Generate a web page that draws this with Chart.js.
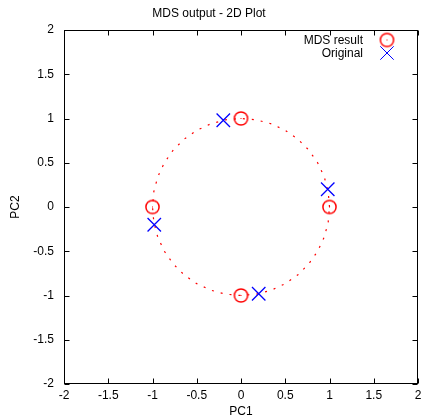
<!DOCTYPE html>
<html>
<head>
<meta charset="utf-8">
<script src="https://cdn.jsdelivr.net/npm/chart.js@4/dist/chart.umd.min.js"></script>
<style>
  body { margin: 0; background: #fff; }
  canvas { display: block; }
</style>
</head>
<body>
<canvas id="mds" width="421" height="419"></canvas>
<script>
// MDS result points
var mdsX = [0, -1, 1, 0];
var mdsY = [1, 0, 0, -1];
// original points
var origX = [-0.2, -0.98, 0.98, 0.2];
var origY = [0.98, -0.2, 0.2, -0.98];
// unit circle, every 10 degrees
var circleX = [1, 0.985, 0.94, 0.866, 0.766, 0.643, 0.5, 0.342, 0.174, 0, -0.174, -0.342, -0.5, -0.643, -0.766, -0.866, -0.94, -0.985, -1,
  -0.985, -0.94, -0.866, -0.766, -0.643, -0.5, -0.342, -0.174, 0, 0.174, 0.342, 0.5, 0.643, 0.766, 0.866, 0.94, 0.985, 1];
var circleY = [0, 0.174, 0.342, 0.5, 0.643, 0.766, 0.866, 0.94, 0.985, 1, 0.985, 0.94, 0.866, 0.766, 0.643, 0.5, 0.342, 0.174, 0,
  -0.174, -0.342, -0.5, -0.643, -0.766, -0.866, -0.94, -0.985, -1, -0.985, -0.94, -0.866, -0.766, -0.643, -0.5, -0.342, -0.174, 0];
var tickValues = [-2, -1.5, -1, -0.5, 0, 0.5, 1, 1.5, 2];
var seriesNames = ["MDS result", "Original"];

var FONT = "'Liberation Sans', Arial, sans-serif";

function pts(xs, ys) {
  return xs.map(function (v, i) { return {x: v, y: ys[i]}; });
}

// red circle marker with a little dot in the middle
var ring = document.createElement("canvas");
ring.width = 17; ring.height = 17;
var rc = ring.getContext("2d");
rc.strokeStyle = "#ff0000";
rc.fillStyle = "#ff0000";
rc.lineWidth = 1.5;
rc.beginPath();
rc.arc(8.5, 8.5, 6.6, 0, Math.PI * 2);
rc.stroke();
rc.fillRect(8, 8, 1, 1);

var crossOpts = {pointStyle: "crossRot", radius: 9.5, borderWidth: 1.3};

// gnuplot style frame, inward ticks on all sides, key in the corner
var framePlugin = {
  id: "frame",
  afterDatasetsDraw: function (chart) {
    var ctx = chart.ctx, a = chart.chartArea;
    var x = chart.scales.x, y = chart.scales.y;
    var L = Math.round(a.left) + 0.5, R = Math.round(a.right) - 0.5;
    var T = Math.round(a.top) + 0.5, B = Math.round(a.bottom) - 0.5;
    ctx.save();
    ctx.strokeStyle = "#000";
    ctx.lineWidth = 1;
    ctx.strokeRect(L, T, R - L, B - T);
    ctx.beginPath();
    tickValues.forEach(function (v) {
      var px = Math.round(x.getPixelForValue(v)) + 0.5;
      ctx.moveTo(px, B); ctx.lineTo(px, B - 5);
      ctx.moveTo(px, T); ctx.lineTo(px, T + 5);
      var py = Math.round(y.getPixelForValue(v)) + 0.5;
      ctx.moveTo(L, py); ctx.lineTo(L + 5, py);
      ctx.moveTo(R, py); ctx.lineTo(R - 5, py);
    });
    ctx.stroke();

    // key
    ctx.font = "12px " + FONT;
    ctx.fillStyle = "#000";
    ctx.textAlign = "right";
    ctx.textBaseline = "middle";
    var kx = a.right - 31;
    ctx.fillText(seriesNames[0], a.right - 55, a.top + 11);
    ctx.fillText(seriesNames[1], a.right - 55, a.top + 24);
    Chart.helpers.drawPoint(ctx, {pointStyle: ring, radius: 6.5, borderWidth: 1}, kx, a.top + 10);
    ctx.strokeStyle = "#0000ff";
    Chart.helpers.drawPoint(ctx, crossOpts, kx, a.top + 23);
    ctx.restore();
  }
};

new Chart("mds", {
  type: "scatter",
  data: {
    datasets: [{
      label: seriesNames[1],
      data: pts(origX, origY),
      pointStyle: "crossRot",
      pointRadius: 9.5,
      pointBorderWidth: 1.3,
      borderColor: "#0000ff",
      backgroundColor: "#0000ff",
      order: 0
    }, {
      label: seriesNames[0],
      data: pts(mdsX, mdsY),
      pointStyle: ring,
      pointRadius: 6.5,
      order: 1
    }, {
      label: "circle",
      data: pts(circleX, circleY),
      showLine: true,
      pointRadius: 0,
      borderColor: "#ff0000",
      borderWidth: 1.2,
      borderDash: [2, 7],
      tension: 0,
      order: 2
    }]
  },
  options: {
    responsive: false,
    animation: false,
    events: [],
    layout: {autoPadding: false, padding: {left: 0, right: 3, top: 0, bottom: 0}},
    plugins: {
      legend: {display: false},
      tooltip: {enabled: false},
      title: {
        display: true,
        text: "MDS output - 2D Plot",
        color: "#000",
        font: {family: FONT, size: 12, weight: "normal"},
        padding: {top: 6, bottom: 9.6}
      }
    },
    scales: {
      x: {
        type: "linear",
        min: -2, max: 2,
        afterBuildTicks: function (s) { s.ticks = tickValues.map(function (v) { return {value: v}; }); },
        afterFit: function (s) { s.height = 35; s.paddingLeft = 0; s.paddingRight = 0; },
        grid: {display: false, drawTicks: false},
        border: {display: false},
        ticks: {
          padding: 4,
          color: "#000",
          font: {family: FONT, size: 12},
          maxRotation: 0,
          callback: function (v) { return String(v); }
        },
        title: {display: true, text: "PC1", color: "#000", font: {family: FONT, size: 12}, padding: {top: 2, bottom: 0}}
      },
      y: {
        type: "linear",
        min: -2, max: 2,
        afterBuildTicks: function (s) { s.ticks = tickValues.map(function (v) { return {value: v}; }); },
        afterFit: function (s) { s.width = 64; s.paddingTop = 0; s.paddingBottom = 0; },
        grid: {display: false, drawTicks: false},
        border: {display: false},
        ticks: {
          padding: 10,
          color: "#000",
          font: {family: FONT, size: 12},
          callback: function (v) { return String(v); }
        },
        title: {display: true, text: "PC2", color: "#000", font: {family: FONT, size: 12}, padding: {top: 8, bottom: 0}}
      }
    }
  },
  plugins: [framePlugin]
});
</script>
</body>
</html>
